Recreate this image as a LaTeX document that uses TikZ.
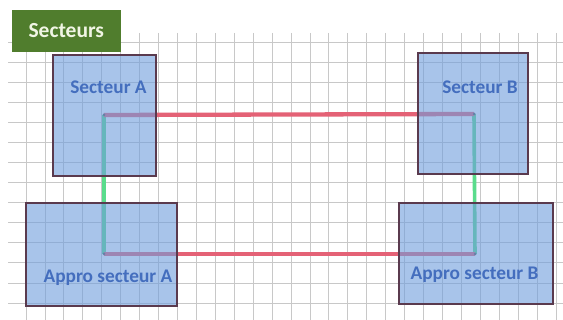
\documentclass[tikz,border=0pt]{standalone}
\usepackage{fontspec}
\setmainfont{Carlito}
\usepackage{xcolor}
\usepackage{tikz}
\usetikzlibrary{positioning}
\definecolor{gridgray}{RGB}{200,200,200}
\definecolor{boxfill}{RGB}{110,157,220}
\definecolor{boxedge}{RGB}{90,58,78}
\definecolor{labelblue}{RGB}{68,110,190}
\definecolor{titlegreen}{RGB}{80,125,45}
\definecolor{titletext}{RGB}{240,245,228}
\definecolor{roadred}{RGB}{228,98,118}
\definecolor{roadgreen}{RGB}{90,220,140}

\begin{document}
\begin{tikzpicture}[x=1pt,y=-1pt,
  sectorbox/.style={draw=boxedge,fill=boxfill,fill opacity=0.6,line width=1.1pt,inner sep=0pt},
  labeltext/.style={text=labelblue,font=\fontsize{19.3}{22}\selectfont\bfseries},
  titlebox/.style={fill=titlegreen,text=titletext,font=\fontsize{21.5}{24}\selectfont\bfseries,minimum width=109pt,minimum height=42pt},
  redroad/.style={roadred,line width=4.3pt},
  greenroad/.style={roadgreen,line width=3.6pt}]
\useasboundingbox (0,0) rectangle (563,320);
\fill[white] (0,0) rectangle (563,320);
%grille
\foreach \i in {0,...,28}
  \draw[gridgray,line width=0.8pt] (26+\i*18.93,33)--(26+\i*18.93,320);
\foreach \j in {0,...,13}
  \draw[gridgray,line width=0.8pt] (8,42+\j*20.08)--(563,42+\j*20.08);
\node[titlebox] (title) at (66.3,31) {Secteurs};
%trajets
\coordinate (cA) at (104,115);
\coordinate (cB) at (474,114);
\coordinate (dA) at (104,254);
\coordinate (dB) at (475,254);
\draw[greenroad] (cA)--(dA);
\draw[greenroad] (cB)--(dB);
\draw[redroad] (cA)--(cB);
\draw[redroad] (dA)--(dB);
\foreach \c in {cA,cB,dA,dB}
  \fill[gray!70!black] (\c) circle (1.5pt);
%secteurs
\node[sectorbox,minimum width=103pt,minimum height=121pt] (secA) at (104.5,115.5) {};
\node[sectorbox,minimum width=110pt,minimum height=121pt] (secB) at (473,113.5) {};
\node[sectorbox,minimum width=151pt,minimum height=103pt] (apA) at (101.5,254.5) {};
\node[sectorbox,minimum width=154pt,minimum height=101pt] (apB) at (476,253.5) {};
\node[labeltext] (labA) at (108.5,87) {Secteur A};
\node[labeltext] (labB) at (480,87) {Secteur B};
\node[labeltext] (labApA) at (108,278) {Appro secteur A};
\node[labeltext] (labApB) at (474.5,275) {Appro secteur B};
\end{tikzpicture}
\end{document}
